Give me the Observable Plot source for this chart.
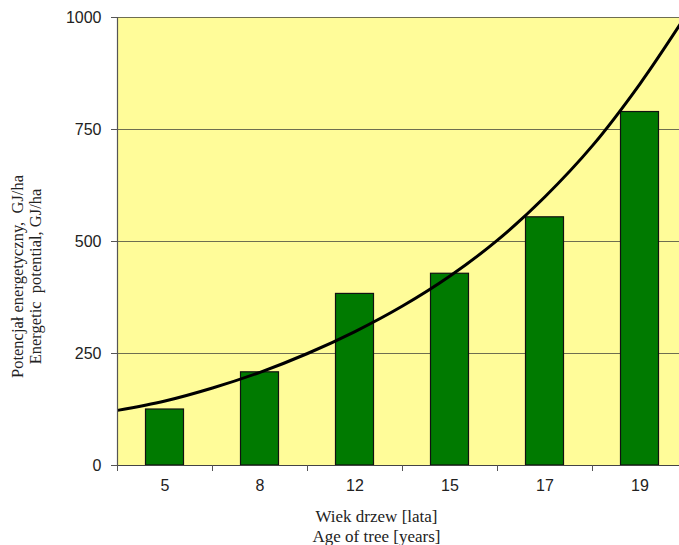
<!DOCTYPE html>
<html>
<head>
<meta charset="utf-8">
<script src="https://cdn.jsdelivr.net/npm/d3@7"></script>
<script src="https://cdn.jsdelivr.net/npm/@observablehq/plot@0.6"></script>
<style>
  html, body { margin: 0; padding: 0; background: #fff; overflow: hidden; }
</style>
</head>
<body>
<div id="chart"></div>
<script>
// Categories (age of tree, years) and bar values (GJ/ha)
const categories = ["5", "8", "12", "15", "17", "19"];
const values = [125, 208, 383, 428, 554, 789];
// Trend line: positions in category units (0 = left edge, i+0.5 = centre of category i)
const trendPos = [0, 0.5, 1, 1.5, 2, 2.5, 3, 3.5, 4, 4.5, 5, 5.5, 6];
const trendValues = [123, 144, 173, 208, 250, 299, 356, 423, 503, 600, 714, 852, 1010];
// Y tick labels
const yTicks = [0, 250, 500, 750, 1000];
const gridValues = [250, 500, 750, 1000];

const bars = categories.map((c, i) => ({i, cat: c, value: values[i]}));
const trend = trendPos.map((p, i) => ({p, v: trendValues[i]}));
const boundaries = d3.range(categories.length + 1);
const centers = categories.map((c, i) => i + 0.5);

const plot = Plot.plot({
  width: 679,
  height: 545,
  marginLeft: 117,
  marginRight: 0,
  marginTop: 17,
  marginBottom: 80,
  style: {fontFamily: "'Liberation Sans', Arial, sans-serif", fontSize: "16px", color: "#222", background: "#fff"},
  x: {type: "linear", domain: [0, categories.length], range: [117, 687], label: null},
  y: {domain: [0, 1000], label: null},
  marks: [
    Plot.frame({fill: "#FFFC99", stroke: null}),
    Plot.ruleY(gridValues, {stroke: "#6e6e50", strokeWidth: 1.2}),
    Plot.rectY(bars, {x: "i", interval: 1, y: "value", insetLeft: 28.5, insetRight: 28.5, fill: "#007A00", stroke: "#111", strokeWidth: 1.2}),
    Plot.line(trend, {x: "p", y: "v", curve: "catmull-rom", stroke: "#000", strokeWidth: 3, clip: "frame"}),
    Plot.ruleY([0], {stroke: "#444", strokeWidth: 1.2}),
    Plot.ruleX([0], {stroke: "#555", strokeWidth: 1.2}),
    Plot.axisY({ticks: yTicks, tickSize: 6, tickPadding: 10, tickFormat: d => String(d), stroke: "#555"}),
    Plot.axisX({ticks: boundaries, tickSize: 6, tickFormat: () => "", stroke: "#555"}),
    Plot.axisX({ticks: centers, tickSize: 0, tickPadding: 14, tickFormat: d => categories[Math.round(d - 0.5)]}),
    Plot.text(["Wiek drzew [lata]\nAge of tree [years]"], {
      frameAnchor: "bottom", dx: -22, dy: 60, lineAnchor: "middle", lineHeight: 1.15,
      fontFamily: "'Liberation Serif', 'Times New Roman', serif", fontSize: 17, fill: "#222"
    }),
    Plot.text(["Potencjał energetyczny,  GJ/ha\nEnergetic  potential, GJ/ha"], {
      frameAnchor: "left", textAnchor: "middle", dx: -91.5, dy: 35, rotate: -90, lineAnchor: "middle", lineHeight: 1.1,
      fontFamily: "'Liberation Serif', 'Times New Roman', serif", fontSize: 16.5, fill: "#222"
    })
  ]
});
document.getElementById("chart").appendChild(plot);
</script>
</body>
</html>
